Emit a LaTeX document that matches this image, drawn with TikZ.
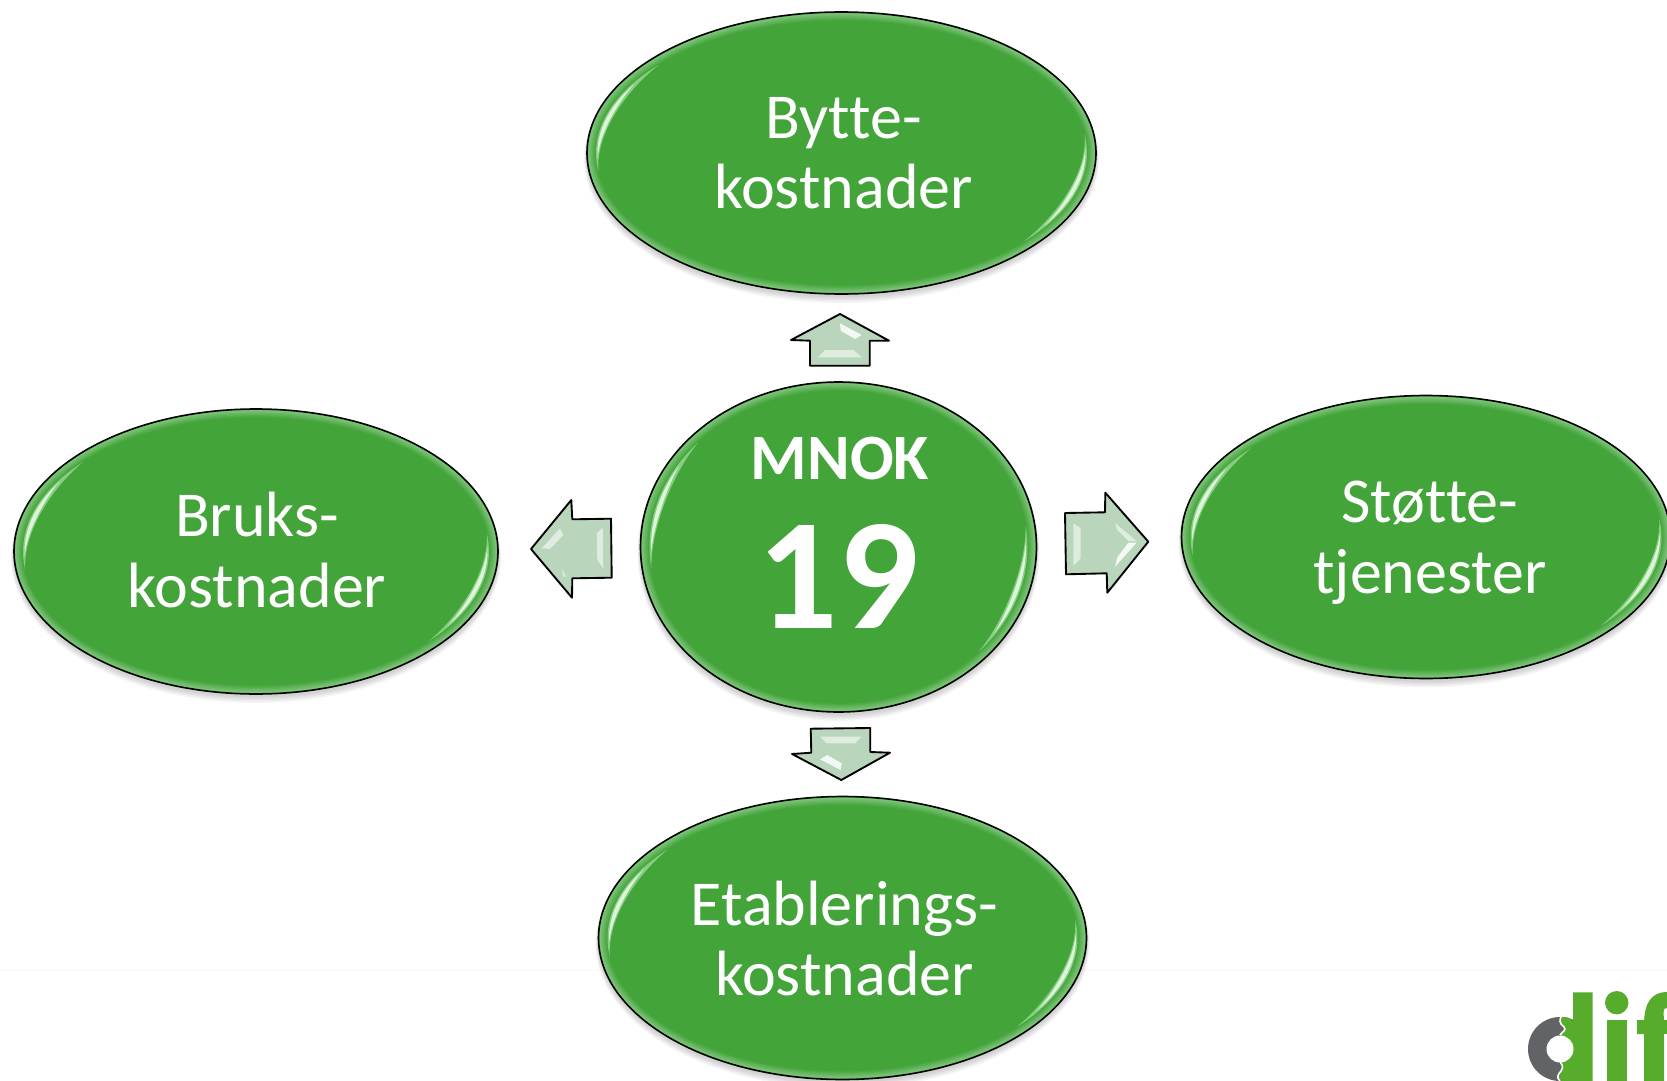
\documentclass[tikz,border=0pt]{standalone}
\usepackage{fontspec}
\setmainfont{Carlito}[RawFeature={-liga;-dlig;-clig}]
\usetikzlibrary{shapes.geometric}
\definecolor{basegreen}{HTML}{43A43A}
\definecolor{rimgreen}{HTML}{7CC278}
\definecolor{glowmid}{HTML}{86CE80}
\definecolor{glowlight}{HTML}{DDF3DA}
\definecolor{arrowfill}{HTML}{B9D5BB}
\definecolor{logogreen}{HTML}{58AC2C}
\definecolor{logogray}{HTML}{626366}
\tikzset{
  blobshape/.style={ellipse,draw=black,line width=1.2pt,fill=basegreen,inner sep=0pt},
  blocka/.style={draw=black,line width=1.4pt,fill=arrowfill,line join=round},
  shine/.style={fill=white,opacity=.85},
  softshine/.style={fill=white,opacity=.55},
  lbl/.style={text=white,anchor=base,inner sep=0pt,font=\fontsize{48}{56}\selectfont},
}
% name, cx, cy, rx, ry
\newcommand{\gloss}[9]{%
  \fill[#9] plot[smooth,domain=0:1,samples=31]
     ({#1+(#3-#7)*cos(#5+(#6-#5)*\x)},{#2-(#4-#7)*sin(#5+(#6-#5)*\x)})
   -- plot[smooth,domain=0:1,samples=31]
     ({#1+(#3-#7-#8*sin(180*\x))*cos(#6+(#5-#6)*\x)},{#2-(#4-#7-#8*sin(180*\x))*sin(#6+(#5-#6)*\x)})
   -- cycle;}
\newcommand{\blob}[5]{%
  \foreach \s in {1,...,5}{
    \fill[black,opacity=.035] (#2,#3+2+\s*.8) ellipse [x radius=#4+\s*.6,y radius=#5+\s*.6];
  }
  \node[blobshape,minimum width=#4*1.5pt,minimum height=#5*1.5pt] (#1) at (#2,#3) {};
  \foreach \i in {0,...,6}{
    \pgfmathsetmacro{\mixv}{\i*100/6}
    \fill[basegreen!\mixv!rimgreen] (#2,#3) ellipse [x radius=#4-1.2-\i*1.2,y radius=#5-1.2-\i*1.2];
  }
  \gloss{#2}{#3}{#4}{#5}{188}{138}{9}{7}{glowmid}
  \gloss{#2}{#3}{#4}{#5}{182}{148}{10.5}{4}{glowlight}
  \gloss{#2}{#3}{#4}{#5}{8}{-42}{9}{7}{glowmid}
  \gloss{#2}{#3}{#4}{#5}{2}{-34}{10.5}{4}{glowlight}
}
\begin{document}
\begin{tikzpicture}[x=0.75pt,y=-0.75pt]
\useasboundingbox (0,0) rectangle (1667,1081);
\clip (0,0) rectangle (1667,1081);
\fill[white] (0,0) rectangle (1667,1081);
\draw[black!1.5,line width=.8pt] (0,970) -- (1667,970);

\blob{bytte}{841.5}{153}{254.5}{141}
\blob{bruks}{256}{551.5}{242}{142.5}
\blob{stotte}{1426}{537}{244.5}{141.5}
\blob{etabl}{842.5}{938}{244}{141.5}
\blob{mnok}{838.5}{547}{198}{165}

\node[lbl] (bytteA) at (843.5,138.5) {Bytte-};
\node[lbl] (bytteB) at (843.5,208.5) {kostnader};
\node[lbl] (bruksA) at (257,536.5) {Bruks-};
\node[lbl] (bruksB) at (257,607) {kostnader};
\node[lbl] (stotteA) at (1430,522) {Støtte-};
\node[lbl] (stotteB) at (1430,593) {tjenester};
\node[lbl] (etablA) at (844.5,925.5) {Etablerings-};
\node[lbl] (etablB) at (844.5,995.5) {kostnader};
\node[lbl,font=\fontsize{48.5}{56}\selectfont\bfseries] (mnokA) at (840,479) {MNOK};
\node[lbl,font=\fontsize{119}{130}\selectfont\bfseries] (mnokB) at (838,628) {19};

% block arrows
\draw[blocka] (840,314) -- (889,340.7) -- (869.7,340.7) -- (869.7,365.7) -- (810,365.7) -- (810,340.7) -- (791,340) -- cycle;
\fill[shine] (840,323.3) -- (861.7,335) -- (855,339) -- (840.7,330.7) -- cycle;
\fill[softshine] (825,350) -- (853.3,350) -- (861.7,357.3) -- (818.3,357.3) -- cycle;

\draw[blocka] (810.7,728.7) -- (870.3,728) -- (870.3,752) -- (890,752.7) -- (841.3,780) -- (792,754) -- (811.3,752.7) -- cycle;
\fill[softshine] (820,736.7) -- (861.7,736.7) -- (855,743.3) -- (826.7,743.3) -- cycle;
\fill[shine] (820,759.3) -- (827.3,755) -- (841.7,763.3) -- (840.7,770) -- cycle;

\draw[blocka] (531,549) -- (571.3,500) -- (572.3,519.3) -- (611,518.7) -- (611.7,577.7) -- (572.3,578.3) -- (572,597.7) -- cycle;
\fill[softshine] (602.7,527.3) -- (603.3,568.3) -- (597.3,560) -- (596.7,533.3) -- cycle;
\fill[softshine] (541.7,548.3) -- (560,528.3) -- (563.3,535) -- (550,549) -- cycle;
\fill[softshine] (561.7,568.3) -- (566,576.7) -- (563.3,576.7) -- cycle;

\draw[blocka] (1065,513) -- (1105,512.3) -- (1105.3,492.7) -- (1148.3,541.7) -- (1107.3,592.7) -- (1106.7,573.3) -- (1066,574.3) -- cycle;
\fill[softshine] (1073.3,523.3) -- (1080.7,528.3) -- (1080.7,558.3) -- (1073.3,566) -- cycle;
\fill[shine] (1136.7,542.7) -- (1115,566.7) -- (1117.3,557.3) -- (1128.3,542.7) -- cycle;
\fill[softshine] (1115,523) -- (1136.7,541) -- (1128.3,541) -- (1117.3,530) -- cycle;

% logo
\fill[logogray] (1560,1049) circle [radius=32];
\fill[logogreen] (1562,1017) .. controls (1570,1017) and (1572,1019) .. (1573,1022) -- (1573,992.3) -- (1592.7,992.3) -- (1592.7,1081) -- (1562,1081)
  .. controls (1556,1078) and (1558,1074) .. (1561,1071) .. controls (1565,1066) and (1560,1064) .. (1560,1060)
  -- (1560,1035) .. controls (1562,1032) and (1567,1030) .. (1564,1027) .. controls (1559,1023) and (1559,1020) .. (1562,1017) -- cycle;
\draw[white,line width=1.2pt] (1562,1015) .. controls (1559,1020) and (1559,1023) .. (1564,1027) .. controls (1567,1030) and (1562,1032) .. (1560,1035);
\draw[white,line width=1.2pt] (1560,1060) .. controls (1560,1064) and (1565,1066) .. (1561,1071) .. controls (1558,1074) and (1556,1078) .. (1560,1081);
\fill[white] (1560,1049) circle [radius=13.5];
\fill[logogreen] (1616.7,1002.7) circle [radius=11.7];
\fill[logogreen] (1606.7,1020) rectangle (1626.7,1081);
\fill[logogreen] (1644,1081) -- (1644,1020) -- (1637,1020) -- (1637,1034) -- (1644,1034) -- (1664,1034) -- (1664,1081) -- cycle;
\fill[logogreen] (1644,1025) .. controls (1644,1002) and (1652,992) .. (1667,992) -- (1667,1008) .. controls (1662,1008) and (1664,1012) .. (1664,1025) -- cycle;
\fill[logogreen] (1637,1020) rectangle (1667,1034);
\end{tikzpicture}
\end{document}
